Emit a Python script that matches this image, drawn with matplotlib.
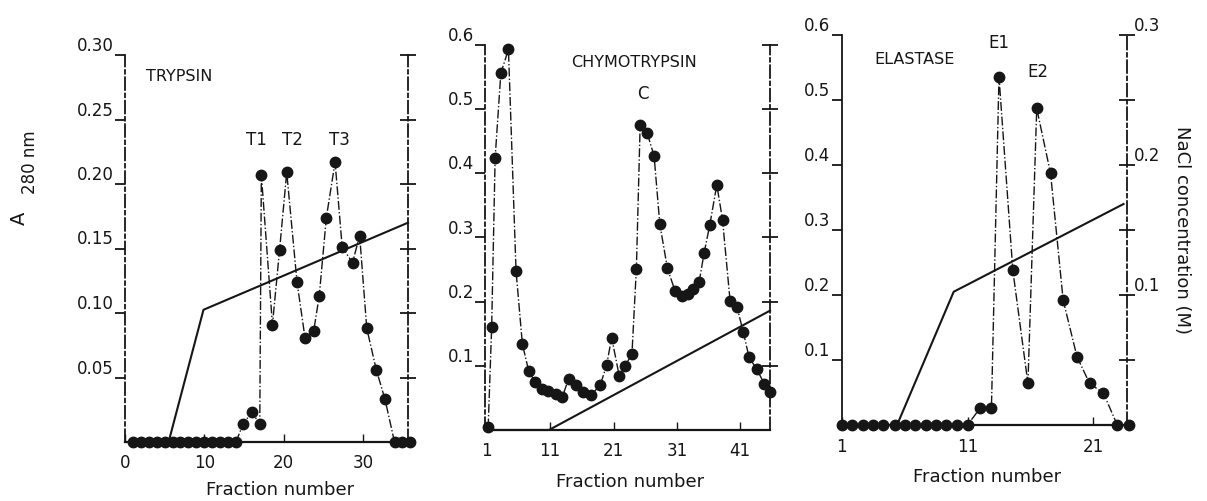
import matplotlib
matplotlib.use("Agg")
import matplotlib.pyplot as plt

# ---------------------------------------------------
# Values
# ---------------------------------------------------

# Trypsin, A280 (left scale 0-0.30)
tryp_frac = [1, 2, 3, 4, 5, 6, 7, 8, 9, 10, 11, 12, 13, 14,
             14.9, 16.0, 17.0, 17.2, 18.6, 19.5, 20.4, 21.7, 22.7, 23.8,
             24.5, 25.4, 26.5, 27.4, 28.7, 29.6, 30.5, 31.7, 32.8,
             34.0, 34.9, 35.9]
tryp_a280 = [0, 0, 0, 0, 0, 0, 0, 0, 0, 0, 0, 0, 0, 0,
             0.014, 0.023, 0.014, 0.207, 0.091, 0.149, 0.209, 0.124, 0.081, 0.086,
             0.113, 0.174, 0.217, 0.151, 0.139, 0.160, 0.088, 0.056, 0.033,
             0, 0, 0]
tryp_salt_frac = [0, 5.5, 9.9, 35.7]
tryp_salt_M = [0, 0, 0.1025, 0.17]

# Chymotrypsin, A280 (left scale 0-0.6)
chymo_frac = [1.2, 1.75, 2.3, 3.2, 4.4, 5.6, 6.6, 7.6, 8.6, 9.7,
              10.7, 11.9, 12.9, 13.9, 15.0, 16.1, 17.4, 18.9, 19.9, 20.7,
              21.9, 22.8, 23.9, 24.6, 25.2, 26.3, 27.4, 28.3, 29.5, 30.7,
              31.8, 32.7, 33.6, 34.5, 35.3, 36.2, 37.3, 38.2, 39.4, 40.5,
              41.5, 42.4, 43.6, 44.8, 45.7]
chymo_a280 = [0.004, 0.160, 0.424, 0.556, 0.593, 0.248, 0.134, 0.092, 0.075, 0.064,
              0.061, 0.056, 0.051, 0.080, 0.070, 0.060, 0.054, 0.070, 0.101, 0.144,
              0.084, 0.100, 0.118, 0.251, 0.476, 0.463, 0.427, 0.321, 0.252, 0.217,
              0.209, 0.212, 0.219, 0.230, 0.276, 0.320, 0.382, 0.328, 0.201, 0.191,
              0.152, 0.113, 0.095, 0.072, 0.060]
chymo_salt_frac = [0.7, 10.8, 45.7]
chymo_salt_M = [0, 0, 0.093]

# Elastase, A280 (left scale 0-0.6)
ela_frac = [1.0, 1.8, 2.7, 3.5, 4.3, 5.2, 6.0, 6.8, 7.7, 8.5, 9.3, 10.2, 11.0,
            12.0, 12.9, 13.5, 14.6, 15.8, 16.5, 17.6, 18.6, 19.7, 20.7, 21.8,
            22.9, 23.8]
ela_a280 = [0, 0, 0, 0, 0, 0, 0, 0, 0, 0, 0, 0, 0,
            0.026, 0.026, 0.536, 0.238, 0.064, 0.487, 0.387, 0.192, 0.105, 0.064, 0.049,
            0, 0]
ela_salt_frac = [1, 5.4, 9.9, 23.4]
ela_salt_M = [0, 0, 0.1025, 0.17]

# axis ticks / labels
tryp_xticks = [0, 10, 20, 30]
tryp_yticks = [0.05, 0.10, 0.15, 0.20, 0.25, 0.30]
tryp_ylabels = ["0.05", "0.10", "0.15", "0.20", "0.25", "0.30"]
frac_xticks = [1, 11, 21, 31, 41]
a280_yticks = [0.1, 0.2, 0.3, 0.4, 0.5, 0.6]
a280_ylabels = ["0.1", "0.2", "0.3", "0.4", "0.5", "0.6"]
nacl_ticks = [0.05, 0.10, 0.15, 0.20, 0.25, 0.30]
nacl_labels = ["", "0.1", "", "0.2", "", "0.3"]

# ---------------------------------------------------
# Plot
# ---------------------------------------------------
W, H = 1207, 501
INK = "#161616"
plt.rcParams["font.family"] = ["DejaVu Sans"]

fig = plt.figure(figsize=(W / 100, H / 100), dpi=100)


def box(x0, y0, x1, y1):
    # pixel box (top-left origin) -> figure fraction rect
    return [x0 / W, 1 - y1 / H, (x1 - x0) / W, (y1 - y0) / H]


def style_panel(ax, left_dash):
    for s in ["top", "right"]:
        ax.spines[s].set_visible(False)
    ax.spines["bottom"].set_linewidth(1.6)
    ax.spines["left"].set_linewidth(1.3)
    ax.spines["bottom"].set_color(INK)
    ax.spines["left"].set_color(INK)
    if left_dash:
        ax.spines["left"].set_linestyle((0, (7, 2, 2, 2)))
    ax.tick_params(axis="y", direction="out", length=7, width=1.3,
                   labelsize=12, colors=INK, pad=1)
    ax.tick_params(axis="x", direction="in", length=6, width=1.0,
                   labelsize=12, colors=INK, pad=9)
    for lab in ax.get_yticklabels():
        lab.set_verticalalignment("bottom")


def style_twin(tw, labels):
    for s in ["top", "left", "bottom"]:
        tw.spines[s].set_visible(False)
    tw.spines["right"].set_linestyle((0, (7, 2, 2, 2)))
    tw.spines["right"].set_linewidth(1.3)
    tw.spines["right"].set_color(INK)
    tw.set_ylim(0, 0.3)
    tw.set_yticks(nacl_ticks)
    tw.set_yticklabels(labels)
    tw.tick_params(axis="y", direction="inout", length=11, width=1.3,
                   labelsize=12, colors=INK, pad=0)
    for lab in tw.get_yticklabels():
        lab.set_verticalalignment("bottom")


def draw_profile(ax, x, y):
    ax.plot(x, y, linestyle="-.", linewidth=1.0, color=INK,
            marker="o", markersize=7.5, markerfacecolor=INK,
            markeredgecolor=INK, clip_on=False, zorder=3)


# ---- Trypsin
ax1 = fig.add_axes(box(125, 55, 408, 442))
ax1.set_xlim(0, 35.7)
ax1.set_ylim(0, 0.30)
ax1.set_xticks(tryp_xticks)
ax1.set_yticks(tryp_yticks)
ax1.set_yticklabels(tryp_ylabels)
style_panel(ax1, True)
draw_profile(ax1, tryp_frac, tryp_a280)
tw1 = ax1.twinx()
style_twin(tw1, [""] * 6)
tw1.plot(tryp_salt_frac, tryp_salt_M, color=INK, linewidth=1.5, clip_on=False)
ax1.text(2.7, 0.283, "TRYPSIN", fontsize=11.5, color=INK, va="center", ha="left")
ax1.text(16.6, 0.234, "T1", fontsize=12, color=INK, ha="center", va="center")
ax1.text(21.1, 0.234, "T2", fontsize=12, color=INK, ha="center", va="center")
ax1.text(27.1, 0.234, "T3", fontsize=12, color=INK, ha="center", va="center")

# ---- Chymotrypsin
ax2 = fig.add_axes(box(485, 45, 770, 430))
ax2.set_xlim(0.7, 45.7)
ax2.set_ylim(0, 0.6)
ax2.set_xticks(frac_xticks)
ax2.set_yticks(a280_yticks)
ax2.set_yticklabels(a280_ylabels)
style_panel(ax2, True)
draw_profile(ax2, chymo_frac, chymo_a280)
tw2 = ax2.twinx()
style_twin(tw2, [""] * 6)
tw2.plot(chymo_salt_frac, chymo_salt_M, color=INK, linewidth=1.5, clip_on=False)
ax2.text(24.2, 0.572, "CHYMOTRYPSIN", fontsize=11.5, color=INK, ha="center", va="center")
ax2.text(25.6, 0.523, "C", fontsize=12, color=INK, ha="center", va="center")

# ---- Elastase
ax3 = fig.add_axes(box(841.7, 35, 1126.7, 425))
ax3.set_xlim(1, 23.65)
ax3.set_ylim(0, 0.6)
ax3.set_xticks([1, 11, 21])
ax3.set_yticks(a280_yticks)
ax3.set_yticklabels(a280_ylabels)
style_panel(ax3, False)
draw_profile(ax3, ela_frac, ela_a280)
tw3 = ax3.twinx()
style_twin(tw3, nacl_labels)
tw3.plot(ela_salt_frac, ela_salt_M, color=INK, linewidth=1.5, clip_on=False)
tw3.set_ylabel("NaCl concentration (M)", rotation=-90, fontsize=13,
               color=INK, labelpad=22)
ax3.text(6.8, 0.562, "ELASTASE", fontsize=11.5, color=INK, ha="center", va="center")
ax3.text(13.5, 0.588, "E1", fontsize=12, color=INK, ha="center", va="center")
ax3.text(16.6, 0.543, "E2", fontsize=12, color=INK, ha="center", va="center")

# axis titles
fig.text(19 / W, 1 - 218 / H, "A", rotation=90, fontsize=14, color=INK,
         ha="center", va="center")
fig.text(30 / W, 1 - 162 / H, "280 nm", rotation=90, fontsize=12, color=INK,
         ha="center", va="center")
fig.text(280 / W, 1 - 490 / H, "Fraction number", fontsize=13, color=INK,
         ha="center", va="center")
fig.text(630 / W, 1 - 482 / H, "Fraction number", fontsize=13, color=INK,
         ha="center", va="center")
fig.text(987 / W, 1 - 477 / H, "Fraction number", fontsize=13, color=INK,
         ha="center", va="center")

fig.savefig("out.png", dpi=100, facecolor="white")
